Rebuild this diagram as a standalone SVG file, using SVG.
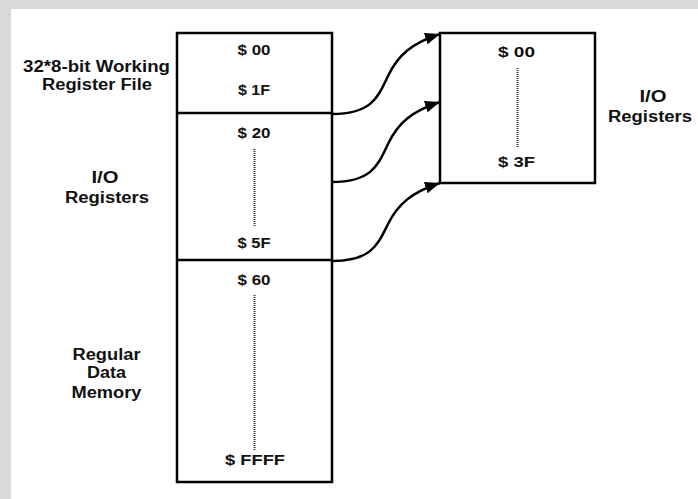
<svg xmlns="http://www.w3.org/2000/svg" width="698" height="499" viewBox="0 0 698 499">
<style>
.box{fill:none;stroke:#000;stroke-width:2.5}
.div{stroke:#000;stroke-width:2.5}
.dot{stroke:#333;stroke-width:2;stroke-dasharray:1 1}
.conn{fill:none;stroke:#000;stroke-width:2.5}
.lbl{font-family:"Liberation Sans",Arial,sans-serif;font-weight:bold;font-size:16px;fill:#111;text-anchor:middle}
.addr{font-family:"Liberation Sans",Arial,sans-serif;font-weight:bold;font-size:15px;fill:#111;text-anchor:middle}
</style>
<defs>
<marker id="ah" markerUnits="userSpaceOnUse" markerWidth="20" markerHeight="20" refX="15" refY="6" orient="auto">
<path d="M0,0 L15,6 L0,12 Z" fill="#000"/>
</marker>
</defs>
<rect x="0" y="0" width="698" height="499" fill="#fff"/>
<rect x="0" y="0" width="698" height="9" fill="#d9d9d9"/>
<rect x="0" y="0" width="11" height="499" fill="#d9d9d9"/>

<g id="memory-map">
<rect class="box" x="177" y="33" width="155" height="449"/>
<line class="div" x1="177" y1="113" x2="332" y2="113"/>
<line class="div" x1="177" y1="260" x2="332" y2="260"/>
</g>

<g id="working-registers">
<text class="lbl" x="96.5" y="72" textLength="147" lengthAdjust="spacingAndGlyphs">32*8-bit Working</text>
<text class="lbl" x="97" y="90" textLength="110" lengthAdjust="spacingAndGlyphs">Register File</text>
<text class="addr" x="254" y="55" textLength="33" lengthAdjust="spacingAndGlyphs">$ 00</text>
<text class="addr" x="254" y="95" textLength="32" lengthAdjust="spacingAndGlyphs">$ 1F</text>
</g>

<g id="io-registers-left">
<text class="lbl" x="105" y="183" textLength="27" lengthAdjust="spacingAndGlyphs">I/O</text>
<text class="lbl" x="107" y="203" textLength="84" lengthAdjust="spacingAndGlyphs">Registers</text>
<text class="addr" x="254" y="138" textLength="33" lengthAdjust="spacingAndGlyphs">$ 20</text>
<line class="dot" x1="254.5" y1="149" x2="254.5" y2="227"/>
<text class="addr" x="254" y="248" textLength="33" lengthAdjust="spacingAndGlyphs">$ 5F</text>
</g>

<g id="regular-data-memory">
<text class="lbl" x="106.5" y="360" textLength="68" lengthAdjust="spacingAndGlyphs">Regular</text>
<text class="lbl" x="106.5" y="378" textLength="39" lengthAdjust="spacingAndGlyphs">Data</text>
<text class="lbl" x="106.5" y="398" textLength="70" lengthAdjust="spacingAndGlyphs">Memory</text>
<text class="addr" x="254" y="285" textLength="33" lengthAdjust="spacingAndGlyphs">$ 60</text>
<line class="dot" x1="254.5" y1="295" x2="254.5" y2="450"/>
<text class="addr" x="255" y="465" textLength="60" lengthAdjust="spacingAndGlyphs">$ FFFF</text>
</g>

<g id="io-registers-right">
<rect class="box" x="440" y="33" width="155" height="150"/>
<text class="addr" x="516.5" y="57" textLength="37" lengthAdjust="spacingAndGlyphs">$ 00</text>
<line class="dot" x1="517.5" y1="68" x2="517.5" y2="147"/>
<text class="addr" x="516.5" y="167" textLength="37" lengthAdjust="spacingAndGlyphs">$ 3F</text>
<text class="lbl" x="653" y="102" textLength="27" lengthAdjust="spacingAndGlyphs">I/O</text>
<text class="lbl" x="650" y="122" textLength="84" lengthAdjust="spacingAndGlyphs">Registers</text>
</g>

<g id="connectors">
<path class="conn" marker-end="url(#ah)" d="M332,114 C372,114 378,97 388,76 C398,55 412,43 440,34"/>
<path class="conn" marker-end="url(#ah)" d="M332,182 C372,182 378,165 388,144 C398,123 412,111 440,102"/>
<path class="conn" marker-end="url(#ah)" d="M332,261 C372,261 378,244 388,224 C398,204 412,192 440,183"/>
</g>
</svg>
